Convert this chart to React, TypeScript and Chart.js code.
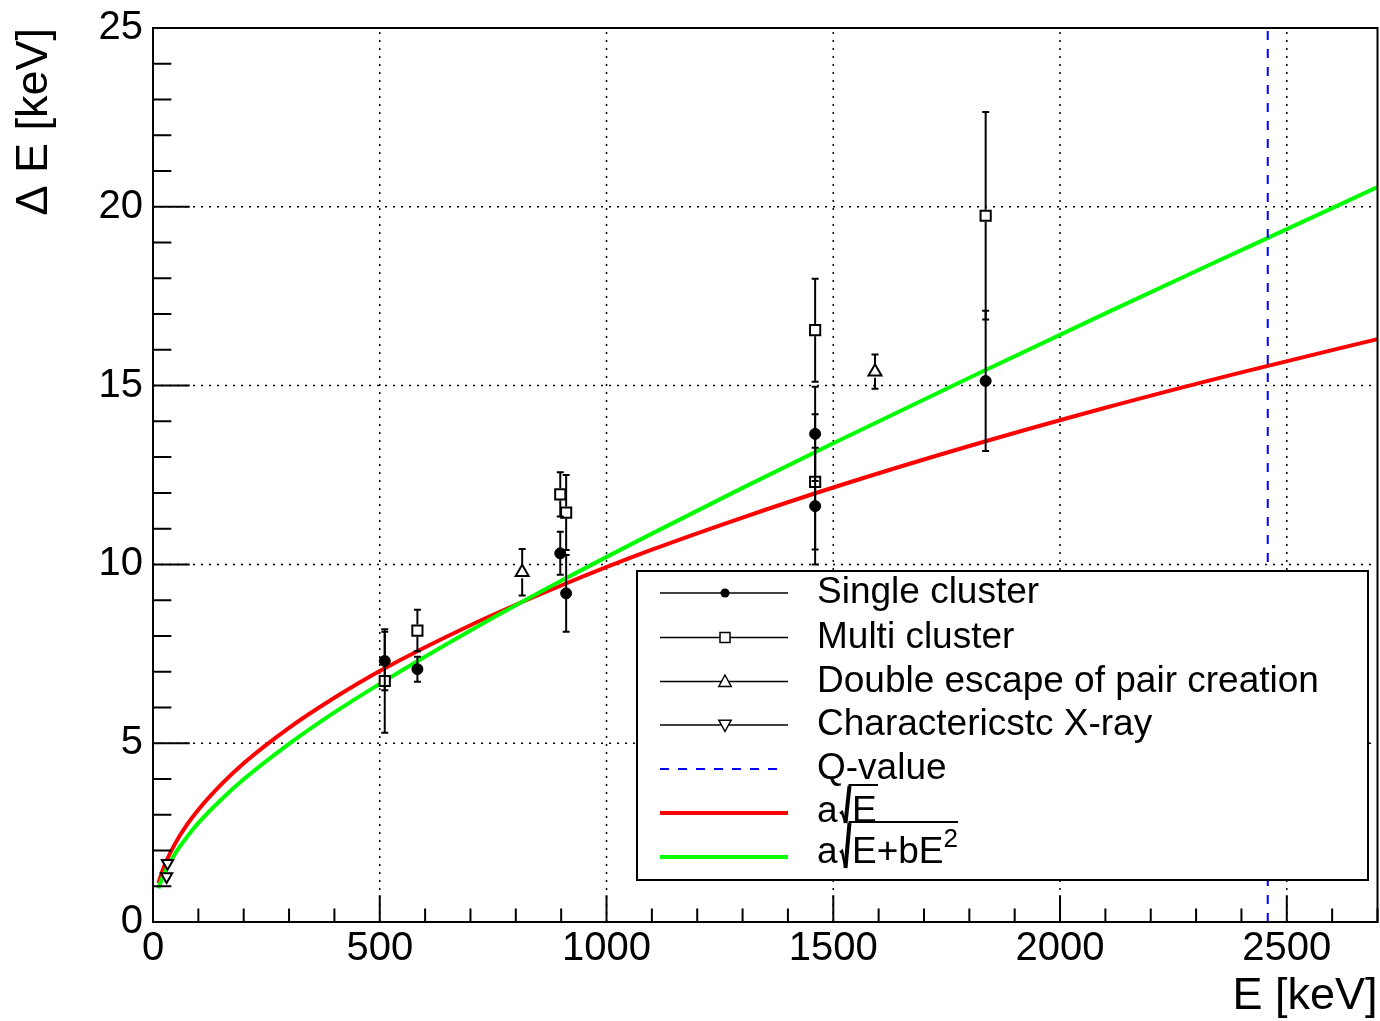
import React, { useEffect, useRef } from "react";
import { Chart, registerables } from "chart.js";

Chart.register(...registerables);

const FONT = '"Liberation Sans", Arial, Helvetica, sans-serif';

// Axes
const X_MIN = 0;
const X_MAX = 2700;
const Y_MIN = 0;
const Y_MAX = 25;
const X_TICKS = [0, 500, 1000, 1500, 2000, 2500];
const Y_TICKS = [0, 5, 10, 15, 20, 25];
const X_GRID = [500, 1000, 1500, 2000, 2500];
const Y_GRID = [5, 10, 15, 20];
const X_MINOR_STEP = 100;
const Y_MINOR_STEP = 1;

// Data: energy [keV], resolution ΔE [keV], error
const SINGLE_E = [511, 583, 898, 911, 1460, 1460, 1836];
const SINGLE_DE = [7.3, 7.07, 10.31, 9.19, 13.65, 11.63, 15.13];
const SINGLE_ERR = [0.82, 0.35, 0.6, 1.07, 1.32, 1.63, 1.96];

const MULTI_E = [511, 583, 898, 911, 1460, 1460, 1836];
const MULTI_DE = [6.74, 8.15, 11.96, 11.45, 16.55, 12.31, 19.75];
const MULTI_ERR = [1.45, 0.58, 0.62, 1.05, 1.44, 1.89, 2.9];

const DOUBLE_E = [814, 1592];
const DOUBLE_DE = [9.78, 15.39];
const DOUBLE_ERR = [0.65, 0.48];

const XRAY_E = [30, 32];
const XRAY_DE = [1.27, 1.64];
const XRAY_ERR = [0.08, 0.08];

const Q_VALUE = 2458;

// Fit curves
const FIT_E = [12, 20, 30, 50, 75, 100, 150, 200, 300, 400, 500, 700, 900, 1100, 1300, 1500, 1800, 2100, 2400, 2700];
const FIT_SQRT = [1.09, 1.4, 1.72, 2.22, 2.72, 3.14, 3.84, 4.44, 5.43, 6.27, 7.02, 8.3, 9.41, 10.41, 11.31, 12.15, 13.31, 14.38, 15.37, 16.3];
const FIT_SQRT_QUAD = [0.94, 1.22, 1.49, 1.94, 2.38, 2.77, 3.42, 3.99, 4.98, 5.86, 6.66, 8.15, 9.54, 10.86, 12.14, 13.39, 15.22, 17.02, 18.79, 20.55];

const LEGEND_LABELS = [
  "Single cluster",
  "Multi cluster",
  "Double escape of pair creation",
  "Charactericstc X-ray",
  "Q-value",
];

const pts = (xs: number[], ys: number[]) => xs.map((x, i) => ({ x, y: ys[i] }));

function drawMarker(ctx: CanvasRenderingContext2D, kind: string, x: number, y: number, s: number) {
  ctx.save();
  ctx.setLineDash([]);
  ctx.strokeStyle = "#000";
  ctx.lineWidth = 1.5;
  ctx.beginPath();
  if (kind === "circle") {
    ctx.arc(x, y, s, 0, Math.PI * 2);
    ctx.fillStyle = "#000";
    ctx.fill();
  } else if (kind === "square") {
    ctx.rect(x - s, y - s, 2 * s, 2 * s);
    ctx.fillStyle = "#fff";
    ctx.fill();
    ctx.stroke();
  } else if (kind === "up") {
    ctx.moveTo(x, y - s);
    ctx.lineTo(x + s * 0.95, y + s * 0.75);
    ctx.lineTo(x - s * 0.95, y + s * 0.75);
    ctx.closePath();
    ctx.fillStyle = "#fff";
    ctx.fill();
    ctx.stroke();
  } else if (kind === "down") {
    ctx.moveTo(x, y + s);
    ctx.lineTo(x + s * 0.95, y - s * 0.75);
    ctx.lineTo(x - s * 0.95, y - s * 0.75);
    ctx.closePath();
    ctx.fillStyle = "#fff";
    ctx.fill();
    ctx.stroke();
  }
  ctx.restore();
}

function drawRadical(
  ctx: CanvasRenderingContext2D,
  x0: number,
  tickY: number,
  bottomY: number,
  topY: number,
  overEnd: number
) {
  ctx.save();
  ctx.setLineDash([]);
  ctx.strokeStyle = "#000";
  ctx.lineCap = "butt";
  ctx.lineJoin = "miter";
  ctx.beginPath();
  ctx.lineWidth = 2.5;
  ctx.moveTo(x0, tickY + 1.5);
  ctx.lineTo(x0 + 2, tickY);
  ctx.lineTo(x0 + 5.5, bottomY);
  ctx.stroke();
  ctx.beginPath();
  ctx.lineWidth = 4;
  ctx.moveTo(x0 + 5.5, bottomY);
  ctx.lineTo(x0 + 9.5, topY + 1);
  ctx.stroke();
  ctx.beginPath();
  ctx.lineWidth = 2;
  ctx.moveTo(x0 + 8.5, topY);
  ctx.lineTo(overEnd, topY);
  ctx.stroke();
  ctx.restore();
}

const rootPlugin = {
  id: "rootStyle",
  beforeDatasetsDraw(chart: any) {
    const { ctx, chartArea: a, scales } = chart;
    const xs = scales.x;
    const ys = scales.y;
    ctx.save();
    ctx.strokeStyle = "#000";
    ctx.lineWidth = 1.5;
    ctx.setLineDash([2, 6]);
    for (const v of X_GRID) {
      const px = xs.getPixelForValue(v);
      ctx.beginPath();
      ctx.moveTo(px, a.bottom);
      ctx.lineTo(px, a.top);
      ctx.stroke();
    }
    for (const v of Y_GRID) {
      const py = ys.getPixelForValue(v);
      ctx.beginPath();
      ctx.moveTo(a.left, py);
      ctx.lineTo(a.right, py);
      ctx.stroke();
    }
    ctx.restore();
  },
  afterDatasetsDraw(chart: any) {
    const { ctx, chartArea: a, scales } = chart;
    const xs = scales.x;
    const ys = scales.y;
    ctx.save();
    ctx.beginPath();
    ctx.rect(a.left, a.top, a.right - a.left, a.bottom - a.top);
    ctx.clip();
    ctx.strokeStyle = "#000";
    ctx.setLineDash([]);
    chart.data.datasets.forEach((ds: any) => {
      if (!ds.errors) return;
      ds.data.forEach((p: any, i: number) => {
        const e = ds.errors[i];
        const px = xs.getPixelForValue(p.x);
        const py = ys.getPixelForValue(p.y);
        const pt = ys.getPixelForValue(p.y + e);
        const pb = ys.getPixelForValue(p.y - e);
        const g = ds.errGap;
        ctx.lineWidth = 2;
        ctx.beginPath();
        if (py - g > pt) {
          ctx.moveTo(px, pt);
          ctx.lineTo(px, py - g);
        }
        if (py + g < pb) {
          ctx.moveTo(px, py + g);
          ctx.lineTo(px, pb);
        }
        ctx.stroke();
        ctx.lineWidth = 2;
        ctx.beginPath();
        if (py - g > pt) {
          ctx.moveTo(px - 3.5, pt);
          ctx.lineTo(px + 3.5, pt);
        }
        if (py + g < pb) {
          ctx.moveTo(px - 3.5, pb);
          ctx.lineTo(px + 3.5, pb);
        }
        ctx.stroke();
      });
    });
    ctx.restore();

    // frame and ticks
    ctx.save();
    ctx.strokeStyle = "#000";
    ctx.setLineDash([]);
    ctx.lineWidth = 2;
    ctx.strokeRect(a.left, a.top, a.right - a.left, a.bottom - a.top);
    const plotW = a.right - a.left;
    const plotH = a.bottom - a.top;
    ctx.beginPath();
    for (let v = Y_MIN; v <= Y_MAX + 1e-9; v += Y_MINOR_STEP) {
      const py = ys.getPixelForValue(v);
      const major = Y_TICKS.includes(Math.round(v));
      const len = major ? plotW * 0.03 : plotW * 0.015;
      ctx.moveTo(a.left, py);
      ctx.lineTo(a.left + len, py);
    }
    for (let v = X_MIN; v <= X_MAX + 1e-9; v += X_MINOR_STEP) {
      const px = xs.getPixelForValue(v);
      const major = X_TICKS.includes(Math.round(v));
      const len = major ? plotH * 0.03 : plotH * 0.015;
      ctx.moveTo(px, a.bottom);
      ctx.lineTo(px, a.bottom - len);
    }
    ctx.stroke();
    ctx.restore();
  },
  afterDraw(chart: any) {
    const ctx: CanvasRenderingContext2D = chart.ctx;
    const L = 637;
    const T = 571;
    const R = 1368;
    const B = 880;
    ctx.save();
    ctx.setLineDash([]);
    ctx.fillStyle = "#fff";
    ctx.fillRect(L, T, R - L, B - T);
    ctx.strokeStyle = "#000";
    ctx.lineWidth = 2;
    ctx.strokeRect(L, T, R - L, B - T);

    const rowY = [593, 637.5, 681.5, 725, 769, 813, 857];
    const lineX0 = 660;
    const lineX1 = 788;
    const markX = 725;
    const textX = 817;
    const kinds = ["circle", "square", "up", "down"];
    const sizes = [4.5, 5, 6.5, 6.5];
    ctx.font = `37px ${FONT}`;
    ctx.textAlign = "left";
    ctx.textBaseline = "alphabetic";
    ctx.fillStyle = "#000";

    for (let i = 0; i < 4; i++) {
      const y = rowY[i];
      ctx.strokeStyle = "#000";
      ctx.lineWidth = 1.5;
      ctx.beginPath();
      ctx.moveTo(lineX0, y);
      ctx.lineTo(lineX1, y);
      ctx.stroke();
      drawMarker(ctx, kinds[i], markX, y, sizes[i]);
      ctx.fillStyle = "#000";
      ctx.fillText(LEGEND_LABELS[i], textX, y + 10);
    }
    // Q-value
    ctx.strokeStyle = "#0000ff";
    ctx.lineWidth = 2;
    ctx.setLineDash([9, 9]);
    ctx.beginPath();
    ctx.moveTo(lineX0, rowY[4]);
    ctx.lineTo(lineX1 - 5, rowY[4]);
    ctx.stroke();
    ctx.setLineDash([]);
    ctx.fillStyle = "#000";
    ctx.fillText(LEGEND_LABELS[4], textX, rowY[4] + 10);

    // a sqrt(E)
    ctx.strokeStyle = "#ff0000";
    ctx.lineWidth = 4;
    ctx.beginPath();
    ctx.moveTo(lineX0, rowY[5]);
    ctx.lineTo(lineX1, rowY[5]);
    ctx.stroke();
    ctx.fillStyle = "#000";
    ctx.fillText("a", textX, 822);
    drawRadical(ctx, 840, 812, 823, 785, 878);
    ctx.fillText("E", 852, 822);

    // a sqrt(E + bE^2)
    ctx.strokeStyle = "#00ff00";
    ctx.lineWidth = 4;
    ctx.beginPath();
    ctx.moveTo(lineX0, rowY[6]);
    ctx.lineTo(lineX1, rowY[6]);
    ctx.stroke();
    ctx.fillStyle = "#000";
    ctx.fillText("a", textX, 863);
    drawRadical(ctx, 840, 851, 868, 822, 958);
    ctx.fillText("E+bE", 852, 863);
    const w = ctx.measureText("E+bE").width;
    ctx.font = `26px ${FONT}`;
    ctx.fillText("2", 852 + w, 847);
    ctx.restore();
  },
};

export default function App() {
  const ref = useRef<HTMLCanvasElement | null>(null);

  useEffect(() => {
    document.body.style.margin = "0";
    const canvas = ref.current;
    if (!canvas) return;
    Chart.defaults.font.family = FONT;
    Chart.defaults.color = "#000";

    const chart = new Chart(canvas, {
      type: "scatter",
      data: {
        datasets: [
          {
            label: "Single cluster",
            data: pts(SINGLE_E, SINGLE_DE),
            errors: SINGLE_ERR,
            errGap: 5,
            pointStyle: "circle",
            pointRadius: 5.5,
            pointBackgroundColor: "#000",
            pointBorderColor: "#000",
            pointBorderWidth: 1,
            showLine: false,
          } as any,
          {
            label: "Multi cluster",
            data: pts(MULTI_E, MULTI_DE),
            errors: MULTI_ERR,
            errGap: 6,
            pointStyle: "rect",
            pointRadius: 7.2,
            pointBackgroundColor: "#fff",
            pointBorderColor: "#000",
            pointBorderWidth: 2,
            showLine: false,
          } as any,
          {
            label: "Double escape of pair creation",
            data: pts(DOUBLE_E, DOUBLE_DE),
            errors: DOUBLE_ERR,
            errGap: 6,
            pointStyle: "triangle",
            pointRadius: 7.5,
            pointBackgroundColor: "#fff",
            pointBorderColor: "#000",
            pointBorderWidth: 2,
            showLine: false,
          } as any,
          {
            label: "Charactericstc X-ray",
            data: pts(XRAY_E, XRAY_DE),
            errors: XRAY_ERR,
            errGap: 6,
            pointStyle: "triangle",
            pointRotation: 180,
            pointRadius: 6.5,
            pointBackgroundColor: "#fff",
            pointBorderColor: "#000",
            pointBorderWidth: 2,
            showLine: false,
          } as any,
          {
            label: "Q-value",
            data: [
              { x: Q_VALUE, y: Y_MIN },
              { x: Q_VALUE, y: Y_MAX },
            ],
            showLine: true,
            borderColor: "#0000ff",
            borderWidth: 2,
            borderDash: [9, 9],
            pointRadius: 0,
          } as any,
          {
            label: "a sqrt(E) + b E^2",
            data: pts(FIT_E, FIT_SQRT_QUAD),
            showLine: true,
            borderColor: "#00ff00",
            borderWidth: 4,
            pointRadius: 0,
            cubicInterpolationMode: "monotone",
          } as any,
          {
            label: "a sqrt(E)",
            data: pts(FIT_E, FIT_SQRT),
            showLine: true,
            borderColor: "#ff0000",
            borderWidth: 4,
            pointRadius: 0,
            cubicInterpolationMode: "monotone",
          } as any,
        ],
      },
      options: {
        animation: false,
        responsive: false,
        devicePixelRatio: 1,
        events: [],
        layout: { autoPadding: false, padding: { top: 28, right: 2.5, left: 0, bottom: 0 } },
        plugins: {
          legend: { display: false },
          tooltip: { enabled: false },
        },
        scales: {
          x: {
            type: "linear",
            min: X_MIN,
            max: X_MAX,
            afterBuildTicks: (s: any) => {
              s.ticks = X_TICKS.map((v) => ({ value: v }));
            },
            afterFit: (s: any) => {
              s.height = 99;
              s.paddingLeft = 0;
              s.paddingRight = 0;
            },
            grid: { display: false, drawTicks: false },
            border: { display: false },
            ticks: {
              color: "#000",
              font: { size: 40, lineHeight: 1 },
              padding: 7,
              maxRotation: 0,
              autoSkip: false,
              callback: (v: any) => String(v),
            },
            title: {
              display: true,
              text: "E [keV]",
              align: "end",
              color: "#000",
              font: { size: 45, lineHeight: 1 },
              padding: { top: 0, bottom: 1.5 },
            },
          },
          y: {
            type: "linear",
            min: Y_MIN,
            max: Y_MAX,
            afterBuildTicks: (s: any) => {
              s.ticks = Y_TICKS.map((v) => ({ value: v }));
            },
            afterFit: (s: any) => {
              s.width = 153;
              s.paddingTop = 0;
              s.paddingBottom = 0;
            },
            grid: { display: false, drawTicks: false },
            border: { display: false },
            ticks: {
              color: "#000",
              font: { size: 40, lineHeight: 1 },
              padding: 10,
              autoSkip: false,
              callback: (v: any) => String(v),
            },
            title: {
              display: true,
              text: "Δ E [keV]",
              align: "end",
              color: "#000",
              font: { size: 45, lineHeight: 1 },
              padding: { top: 12.5, bottom: 0 },
            },
          },
        },
      } as any,
      plugins: [rootPlugin],
    });
    return () => chart.destroy();
  }, []);

  return (
    <canvas
      ref={ref}
      width={1380}
      height={1021}
      style={{ display: "block", width: "1380px", height: "1021px" }}
    />
  );
}
